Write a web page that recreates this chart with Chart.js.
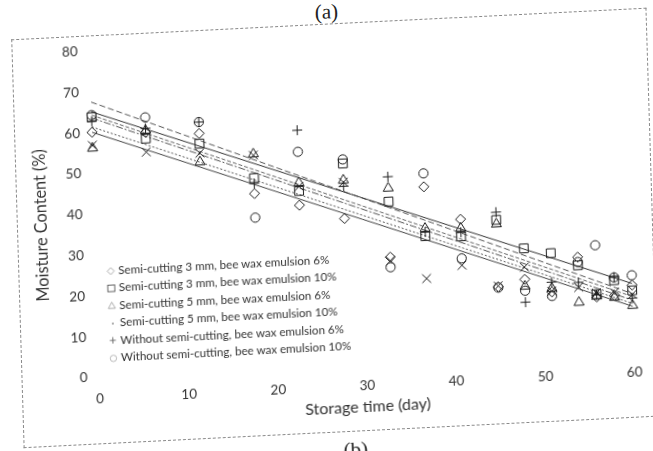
<!DOCTYPE html>
<html>
<head>
<meta charset="utf-8">
<script src="https://cdn.jsdelivr.net/npm/chart.js@4.4.1/dist/chart.umd.min.js"></script>
<style>
html,body{margin:0;padding:0;background:#fff;overflow:hidden;width:653px;height:451px;}
#wrap{position:absolute;left:0;top:0;width:653px;height:451px;transform-origin:0 0;
  transform:matrix(0.99876,-0.04972,0.03036,0.99954,-5.61,12.14);}
#frame{position:absolute;left:16px;top:28px;width:636px;height:409px;border:1px dashed #8a8a8a;box-sizing:border-box;}
#chart{position:absolute;left:0;top:0;}
.cap{position:absolute;width:60px;text-align:center;font-family:"Liberation Serif","DejaVu Serif",serif;font-size:21px;line-height:22px;color:#222;}
#legend{position:absolute;left:104px;top:255px;font-family:Lato,"Open Sans",sans-serif;font-size:11.6px;color:#333;}
#legend div{height:17.4px;line-height:17.4px;white-space:nowrap;}
#legend svg{display:inline-block;vertical-align:middle;margin-right:3px;margin-top:-2px;}
</style>
</head>
<body>
<div id="wrap">
  <div class="cap" style="left:302px;top:5px;">(a)</div>
  <div id="frame"></div>
  <canvas id="chart" width="653" height="451"></canvas>
  <div id="legend"></div>
  <div class="cap" style="left:318px;top:444px;">(b)</div>
</div>
<script>
// ---- data ----
const days = [0, 6, 12, 18, 23, 28, 33, 37, 41, 45, 48, 51, 54, 56, 58, 60];
const semi3mm6  = [60.1, 59.4, 58.5, 43.1, 39.7, 35.9, 25.9, 42.7, 34.3, 17.3, 18.8, 15.4, 23.6, 13.6, 13.8, 16.1];
const semi3mm10 = [63.8, 57.9, 56.0, 46.9, 43.2, 49.4, 39.5, 30.6, 30.1, 33.7, 26.4, 24.9, 21.6, 14.3, 17.5, 14.8];
const semi5mm6  = [56.2, 59.9, 51.5, 52.8, 45.2, 45.3, 42.8, 32.5, 32.1, 32.7, 17.1, 16.3, 12.5, 13.8, 13.3, 11.1];
const semi5mm10 = [56.9, 54.6, 53.7, 52.5, 44.3, 44.8, 25.0, 20.2, 23.0, 17.5, 21.8, 15.6, 16.2, 14.6, 14.5, 13.8];
const without6  = [62.8, 60.4, 61.3, 45.6, 58.1, 43.8, 45.6, 31.6, 31.1, 35.6, 13.2, 17.8, 17.4, 14.1, 18.2, 12.9];
const without10 = [64.3, 63.1, 61.3, 37.2, 52.8, 50.4, 23.4, 46.0, 24.7, 17.1, 16.0, 14.4, 22.4, 26.3, 18.2, 18.5];
// trend lines (value at day 0 and day 60), same order as series
const trendStart = [61.4, 65.1, 63.6, 60.1, 67.5, 64.3];
const trendEnd   = [11.6, 16.5, 12.4, 10.9, 14.0, 13.3];
const seriesLabels = [
  'Semi-cutting 3 mm, bee wax emulsion 6%',
  'Semi-cutting 3 mm, bee wax emulsion 10%',
  'Semi-cutting 5 mm, bee wax emulsion 6%',
  'Semi-cutting 5 mm, bee wax emulsion 10%',
  'Without semi-cutting, bee wax emulsion 6%',
  'Without semi-cutting, bee wax emulsion 10%'
];
const xTitle = 'Storage time (day)';
const yTitle = 'Moisture Content (%)';
const xRange = [0, 60];
const yRange = [0, 80];

// ---- styling ----
const seriesValues = [semi3mm6, semi3mm10, semi5mm6, semi5mm10, without6, without10];
const pointStyles = ['rectRot', 'rect', 'triangle', 'crossRot', 'cross', 'circle'];
const pointRadii  = [5, 6.2, 5.8, 6.2, 5, 4.6];
const trendDash = [[2, 2], [], [7, 2, 2, 2], [], [6, 3], [4, 2]];
const trendColor = ['#555', '#333', '#555', '#444', '#555', '#666'];

const datasets = [];
seriesValues.forEach((vals, i) => {
  datasets.push({
    type: 'line',
    label: 'trend ' + i,
    data: [{x: xRange[0], y: trendStart[i]}, {x: xRange[1], y: trendEnd[i]}],
    borderColor: trendColor[i],
    borderWidth: 1,
    borderDash: trendDash[i],
    pointRadius: 0,
    fill: false,
    clip: false,
    order: 2
  });
});
seriesValues.forEach((vals, i) => {
  datasets.push({
    type: 'scatter',
    label: seriesLabels[i],
    data: days.map((d, k) => ({x: d, y: vals[k]})),
    pointStyle: pointStyles[i],
    pointRadius: pointRadii[i],
    pointBorderColor: '#1e1e1e',
    pointBackgroundColor: 'rgba(0,0,0,0)',
    pointBorderWidth: 1,
    showLine: false,
    clip: false,
    order: 1
  });
});

// y-axis title drawn by a small plugin so it can sit slightly below centre, as in the original
const yTitlePlugin = {
  id: 'yTitlePlugin',
  afterDraw(chart) {
    const {ctx, chartArea} = chart;
    ctx.save();
    ctx.translate(40.5, (chartArea.top + chartArea.bottom) / 2 + 8.5);
    ctx.rotate(-Math.PI / 2);
    ctx.font = '16.3px Lato';
    ctx.fillStyle = '#333';
    ctx.textAlign = 'center';
    ctx.textBaseline = 'middle';
    ctx.fillText(yTitle, 0, 0);
    ctx.restore();
  }
};

new Chart(document.getElementById('chart'), {
  data: {datasets},
  plugins: [yTitlePlugin],
  options: {
    responsive: false,
    animation: false,
    devicePixelRatio: 1,
    layout: {padding: {left: 20, right: 23.8, top: 43.7, bottom: 0}},
    plugins: {legend: {display: false}, tooltip: {enabled: false}},
    scales: {
      x: {
        type: 'linear', min: xRange[0], max: xRange[1],
        grid: {display: false}, border: {display: false},
        ticks: {stepSize: 10, padding: 6, color: '#333', font: {family: 'Lato', size: 13.5}},
        title: {display: true, text: xTitle, color: '#333', font: {family: 'Lato', size: 16},
                padding: {top: 0, bottom: 28.3}},
        afterFit: s => { s.height = 81; }
      },
      y: {
        type: 'linear', min: yRange[0], max: yRange[1],
        grid: {display: false}, border: {display: false},
        ticks: {stepSize: 10, padding: 4, color: '#333', font: {family: 'Lato', size: 13.5}},
        title: {display: false},
        afterFit: s => { s.width = 74; }
      }
    }
  }
});

// legend (inside plot, lower left)
const icons = [
  '<svg width="9" height="9"><polygon points="4.5,1 8,4.5 4.5,8 1,4.5" fill="none" stroke="#999" stroke-width="0.8"/></svg>',
  '<svg width="9" height="9"><rect x="1" y="1.5" width="7" height="6.5" fill="none" stroke="#555" stroke-width="0.9"/></svg>',
  '<svg width="9" height="9"><polygon points="4.5,1.5 8,7.8 1,7.8" fill="none" stroke="#999" stroke-width="0.8"/></svg>',
  '<svg width="9" height="9"><circle cx="5" cy="5" r="0.9" fill="#888"/></svg>',
  '<svg width="9" height="9"><path d="M4.5 1.5V8M1.5 4.8H7.5" stroke="#666" stroke-width="0.9"/></svg>',
  '<svg width="9" height="9"><circle cx="4.5" cy="4.8" r="3.2" fill="none" stroke="#aaa" stroke-width="0.8"/></svg>'
];
document.getElementById('legend').innerHTML =
  seriesLabels.map((t, i) => '<div>' + icons[i] + t + '</div>').join('');
</script>
</body>
</html>
